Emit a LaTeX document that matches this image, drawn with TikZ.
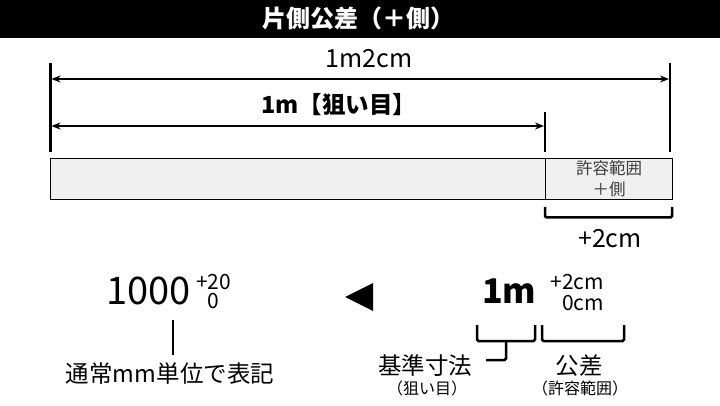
\documentclass[tikz,border=0pt]{standalone}
\usepackage{fontspec}
\setmainfont{Noto Sans CJK JP}
\usetikzlibrary{arrows.meta}
\tikzset{
  txt/.style={inner sep=0pt, outer sep=0pt, text=black},
  ext/.style={line width=2.6pt},
  dimarrow/.style={line width=2pt, {Stealth[length=9pt,width=7pt]}-{Stealth[length=9pt,width=7pt]}},
  brk/.style={line width=2.5pt, rounded corners=1.5pt},
}
\begin{document}
\begin{tikzpicture}[x=1pt,y=-1pt]
\useasboundingbox (0,0) rectangle (720,406);
% header
\fill[black] (0,0) rectangle (720,38);
\node[txt,text=white,font=\fontsize{24}{28}\selectfont\bfseries] (title) at (358,18) {片側公差（＋側）};
% extension lines
\coordinate (L1) at (50.5,63); \coordinate (L2) at (50.5,152);
\coordinate (R1) at (670,63); \coordinate (R2) at (670,152);
\coordinate (M1) at (545,112); \coordinate (M2) at (545,152);
\draw[ext] (L1) -- (L2);
\draw[ext] (R1) -- (R2);
\draw[ext] (M1) -- (M2);
% dimension arrows
\coordinate (a1s) at (51.5,79); \coordinate (a1e) at (669,79);
\coordinate (a2s) at (51.5,126); \coordinate (a2e) at (544,126);
\draw[dimarrow] (a1s) -- (a1e);
\draw[dimarrow] (a2s) -- (a2e);
\node[txt,font=\fontsize{25}{28}\selectfont] (d1) at (369,59) {1m2cm};
\node[txt,font=\fontsize{23.5}{27}\selectfont\bfseries] (d2) at (339,105) {1m【狙い目】};
% bar
\draw[fill={rgb,255:red,240;green,240;blue,240}, line width=1pt] (50.5,159) rectangle (672,199.5);
\draw[line width=0.8pt] (545,159) -- (545,199.5);
\node[txt,font=\fontsize{16.5}{21}\selectfont, text={rgb,255:red,60;green,60;blue,60}, align=center] (tol) at (609,179) {許容範囲\\＋側};
% +2cm bracket
\coordinate (b1) at (545,207); \coordinate (b2) at (672,207);
\draw[brk] (b1) -- (545,217.5) -- (672,217.5) -- (b2);
\node[txt,font=\fontsize{25}{28}\selectfont] (p2) at (610,239) {+2cm};
% bottom left
\node[txt,anchor=base west,font=\fontsize{38}{42}\selectfont] (n1000) at (106,304) {1000};
\node[txt,anchor=north west,font=\fontsize{21}{19}\selectfont,align=left] (tol1) at (196,274) {+20\\\hphantom{+}0};
\coordinate (v1) at (173,320); \coordinate (v2) at (173,355);
\draw[line width=2.5pt] (v1) -- (v2);
\node[txt,font=\fontsize{23.5}{27}\selectfont] (note) at (170,374) {通常mm単位で表記};
% triangle
\fill[black] (345,297) -- (373,283) -- (373,311) -- cycle;
% bottom right
\node[txt,anchor=base west,font=\fontsize{34}{38}\selectfont\bfseries] (n1m) at (482,303) {1m};
\node[txt,anchor=north east,font=\fontsize{21}{21}\selectfont,align=right] (tol2) at (604,274) {+2cm\\0cm};
\draw[brk] (477,325) -- (477,341) -- (535,341) -- (535,325);
\draw[brk] (506,341) -- (506,360) -- (486,360);
\draw[brk] (542,325) -- (542,341) -- (624,341) -- (624,325);
\node[txt,font=\fontsize{23.5}{27}\selectfont] (kijun) at (425,366) {基準寸法};
\node[txt,font=\fontsize{16}{18}\selectfont] (nerai) at (427,388) {（狙い目）};
\node[txt,font=\fontsize{23.5}{27}\selectfont] (kousa) at (579,366) {公差};
\node[txt,font=\fontsize{16}{18}\selectfont] (kyoyou) at (580,388) {（許容範囲）};
\end{tikzpicture}
\end{document}
